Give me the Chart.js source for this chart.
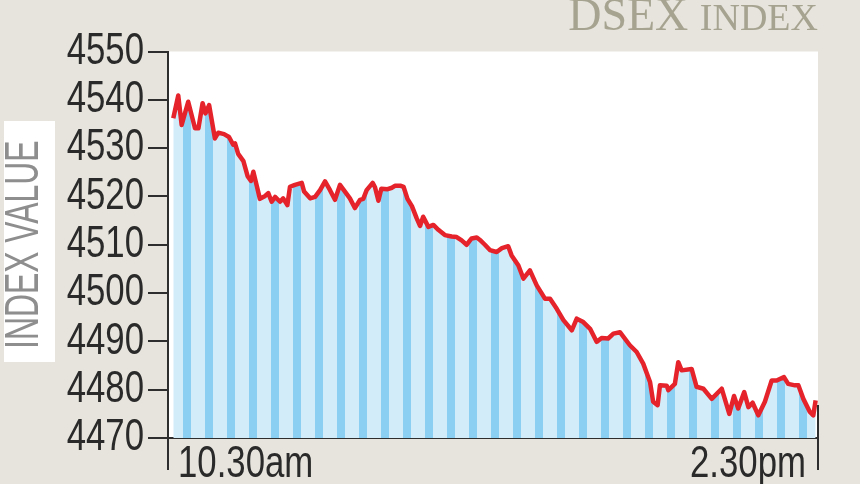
<!DOCTYPE html>
<html><head><meta charset="utf-8">
<script src="https://cdn.jsdelivr.net/npm/chart.js@4"></script>
<style>html,body{margin:0;padding:0;background:#e6e4dc;}#wrap{width:860px;height:484px;position:relative;}</style>
</head><body><div id="wrap"><canvas id="c" width="860" height="484"></canvas></div>
<script>
const titleMain = 'DSEX';
const titleSub = 'INDEX';
const yAxisTitle = 'INDEX VALUE';
const xTickMinutes = [0, 240];
const xTickLabels = ['10.30am', '2.30pm'];
const yTicks = [4470, 4480, 4490, 4500, 4510, 4520, 4530, 4540, 4550];
// minutes after 10.30am
const minutes = [-1.8,0.1,1.4,3.9,6.5,7.8,9.4,10.5,11.9,14.1,15.4,17.6,19.5,21.1,21.8,23.0,25.0,26.6,27.9,28.8,30.1,31.3,33.3,34.5,35.8,37.1,39.0,40.2,41.8,42.8,44.7,47.3,48.2,50.5,52.4,54.3,56.2,58.1,60.0,61.9,63.8,65.7,67.6,69.6,70.8,72.1,74.4,75.3,76.6,77.7,80.1,81.8,82.9,85.2,86.2,87.7,89.4,91.2,92.5,93.7,95.7,97.6,99.5,102.0,104.6,106.5,108.4,110.3,112.2,114.2,115.4,117.3,119.2,121.8,123.8,126.2,127.5,130.1,132.0,134.5,137.1,140.3,142.2,144.7,147.3,150.5,152.4,154.9,157.5,160.0,161.9,164.4,166.4,168.9,172.7,175.3,177.8,180.4,181.6,183.3,184.2,186.8,187.4,189.9,191.2,192.5,196.3,198.2,200.8,204.0,207.8,210.7,212.5,214.1,216.4,218.0,219.6,221.8,224.3,226.9,228.8,231.6,233.2,235.8,237.1,239.0,241.5,242.8,243.7];
const values = [4536.2,4540.9,4534.8,4539.6,4534.1,4534.1,4539.3,4537.2,4538.9,4532.0,4533.2,4532.9,4532.3,4530.7,4531.0,4528.8,4527.3,4524.2,4523.2,4525.1,4522.2,4519.5,4520.1,4520.7,4518.9,4519.9,4518.9,4519.6,4518.2,4522.0,4522.4,4522.8,4521.0,4519.6,4519.9,4521.3,4523.1,4521.3,4519.3,4522.4,4521.0,4519.6,4517.6,4519.3,4519.5,4521.3,4522.8,4521.9,4519.1,4521.6,4521.5,4521.8,4522.2,4522.2,4522.0,4519.5,4518.0,4515.5,4513.9,4515.8,4513.7,4514.1,4513.1,4512.0,4511.7,4511.6,4510.9,4510.0,4511.3,4511.5,4511.0,4510.0,4508.9,4508.5,4509.3,4509.7,4507.8,4505.7,4503.0,4504.7,4501.6,4498.8,4498.8,4496.8,4494.4,4492.3,4494.7,4494.0,4492.6,4489.9,4490.7,4490.6,4491.6,4491.9,4489.2,4487.8,4485.4,4481.6,4477.5,4476.8,4480.9,4480.8,4479.9,4481.2,4485.7,4484.0,4484.3,4480.6,4480.2,4478.1,4480.2,4475.0,4478.7,4476.1,4479.5,4476.4,4477.3,4474.7,4477.5,4481.9,4481.9,4482.6,4481.2,4480.9,4480.9,4478.1,4475.4,4474.7,4477.8];

const SANS = "'Liberation Sans', Arial, sans-serif";
const SERIF = "'Liberation Serif', 'DejaVu Serif', serif";
const INK = '#2a2a2a';
// horizontal compression per font size, to imitate the condensed face of the original
const NARROW_SCALE = {44: 0.79, 49: 0.65};

const canvas = document.getElementById('c');
const ctx0 = canvas.getContext('2d');
const origFill = ctx0.fillText.bind(ctx0);
ctx0.fillText = function (text, x, y, maxWidth) {
  const f = this.font;
  const m = /(\d+(?:\.\d+)?)px/.exec(f);
  const sx = (m && f.indexOf('Liberation Sans') >= 0) ? NARROW_SCALE[m[1]] : undefined;
  if (sx) {
    this.save();
    this.translate(x, y);
    this.scale(sx, 1);
    if (maxWidth === undefined) origFill(text, 0, 0); else origFill(text, 0, 0, maxWidth / sx);
    this.restore();
  } else {
    if (maxWidth === undefined) origFill(text, x, y); else origFill(text, x, y, maxWidth);
  }
};

function stripePattern(ctx) {
  const c = document.createElement('canvas');
  c.width = 22; c.height = 4;
  const g = c.getContext('2d');
  g.fillStyle = '#d3ecfa'; g.fillRect(0, 0, 22, 4);
  g.fillStyle = '#8bcff3'; g.fillRect(7, 0, 8, 4);
  return ctx.createPattern(c, 'repeat');
}

const decor = {
  id: 'decor',
  beforeDraw(chart) {
    const {ctx, chartArea: a} = chart;
    ctx.save();
    ctx.fillStyle = '#e6e4dc';
    ctx.fillRect(0, 0, chart.width, chart.height);
    ctx.fillStyle = '#ffffff';
    ctx.fillRect(a.left, a.top, a.right - a.left, a.bottom - a.top);
    ctx.fillRect(4, 121, 51, 241);
    ctx.restore();
  },
  afterDraw(chart) {
    const {ctx, chartArea: a} = chart;
    ctx.save();
    ctx.strokeStyle = '#2e2e2e';
    ctx.lineWidth = 2;
    ctx.beginPath();
    ctx.moveTo(a.left, a.bottom); ctx.lineTo(a.left, 470);
    ctx.moveTo(a.right, 405); ctx.lineTo(a.right, 470);
    ctx.stroke();
    ctx.fillStyle = '#a6a391';
    ctx.textBaseline = 'alphabetic';
    ctx.textAlign = 'left';
    const f1 = '46px ' + SERIF, f2 = '38px ' + SERIF;
    ctx.font = f1; const w1 = ctx.measureText(titleMain + ' ').width;
    ctx.font = f2; const w2 = ctx.measureText(titleSub).width;
    const x0 = 818 - w1 - w2;
    ctx.font = f1; ctx.fillText(titleMain, x0, 30);
    ctx.font = f2; ctx.fillText(titleSub, x0 + w1, 30);
    ctx.restore();
  }
};

new Chart(ctx0, {
  type: 'line',
  data: {
    datasets: [{
      data: minutes.map((m, i) => ({x: m, y: values[i]})),
      borderColor: '#e4232b',
      borderWidth: 4.5,
      borderJoinStyle: 'round',
      pointRadius: 0,
      tension: 0,
      fill: 'start',
      backgroundColor: stripePattern(ctx0)
    }]
  },
  options: {
    responsive: false,
    animation: false,
    layout: {padding: {top: 51.5, right: 42, left: 0, bottom: 0}},
    plugins: {legend: {display: false}, tooltip: {enabled: false}},
    scales: {
      x: {
        type: 'linear', min: -3.82, max: 244.6,
        afterBuildTicks: s => { s.ticks = xTickMinutes.map(v => ({value: v})); },
        afterFit: s => { s.height = 46; },
        ticks: {
          callback: (v, i) => xTickLabels[i],
          align: 'inner', maxRotation: 0, autoSkip: false, padding: 0,
          color: INK, font: {family: SANS, size: 44, lineHeight: 1.2}
        },
        grid: {display: false, drawTicks: false},
        border: {display: true, color: '#2e2e2e', width: 2}
      },
      y: {
        min: 4470, max: 4550,
        afterBuildTicks: s => { s.ticks = yTicks.map(v => ({value: v})); },
        afterFit: s => { s.width = 168; },
        ticks: {callback: v => String(v), autoSkip: false, color: INK, font: {family: SANS, size: 44, lineHeight: 1.0}, padding: 4},
        grid: {drawOnChartArea: false, drawTicks: true, tickLength: 20, color: '#2e2e2e', lineWidth: 2},
        border: {display: true, color: '#2e2e2e', width: 2},
        title: {display: true, text: yAxisTitle, color: '#8e8e8e', font: {family: SANS, size: 49, lineHeight: 1.0}, padding: {top: 0, bottom: 0}}
      }
    }
  },
  plugins: [decor]
});
</script></body></html>
